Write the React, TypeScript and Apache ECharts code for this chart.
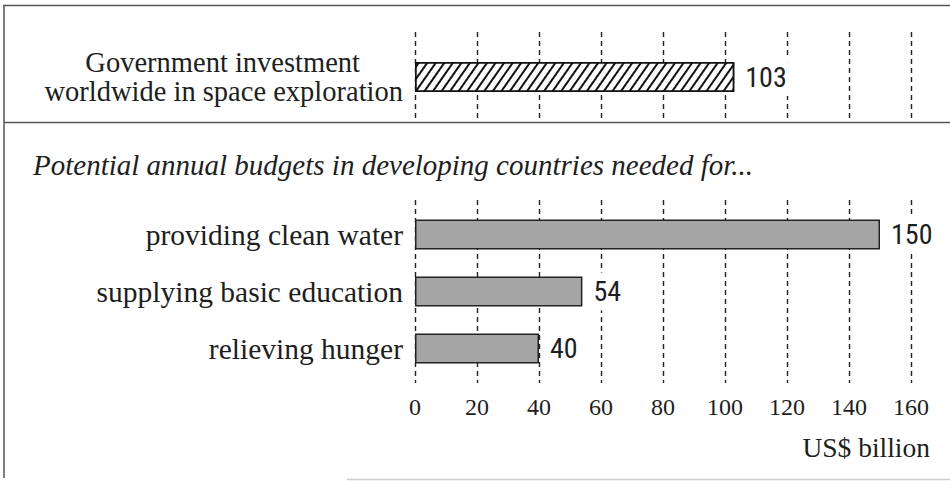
import React, { useEffect, useRef } from "react";
import * as echarts from "echarts";

const topCategories = ["Government investment\nworldwide in space exploration"];
const topValues = [103];
const bottomCategories = ["providing clean water", "supplying basic education", "relieving hunger"];
const bottomValues = [150, 54, 40];
const axisMin = 0;
const axisMax = 160;
const axisInterval = 20;
const headingText = "Potential annual budgets in developing countries needed for...";
const unitText = "US$ billion";

const SERIF = "'Liberation Serif', 'Times New Roman', serif";
const SANS = "'Liberation Sans Narrow', 'Roboto Condensed', Roboto, 'Liberation Sans', sans-serif";
const INK = "#1e1e1e";

export default function App() {
  const ref = useRef<HTMLDivElement>(null);
  useEffect(() => {
    if (!ref.current) return;
    const chart = echarts.init(ref.current, undefined, { renderer: "svg" });
    const gridLeft = 415;
    const gridRight = 39;
    const dashed = { show: true, lineStyle: { type: [5, 4], color: "#222", width: 1.4 } };
    const valueLabel = {
      show: true,
      position: "right",
      distance: 9,
      fontFamily: SANS,
      fontSize: 28,
      color: INK,
      backgroundColor: "#ffffff",
      padding: [6, 2, 4, 2],
    };
    const option: any = {
      animation: false,
      backgroundColor: "#fff",
      grid: [
        { left: gridLeft, right: gridRight, top: 32, height: 90 },
        { left: gridLeft, right: gridRight, top: 206, height: 171 },
        { left: gridLeft, right: gridRight, top: 200, height: 183 },
      ],
      xAxis: [
        {
          gridIndex: 0, type: "value", min: axisMin, max: axisMax, interval: axisInterval,
          axisLine: { show: false }, axisTick: { show: false }, axisLabel: { show: false },
          splitLine: dashed,
        },
        {
          gridIndex: 1, type: "value", min: axisMin, max: axisMax, interval: axisInterval,
          show: false, splitLine: { show: false },
        },
        {
          gridIndex: 2, type: "value", min: axisMin, max: axisMax, interval: axisInterval,
          axisLine: { show: false }, axisTick: { show: false },
          axisLabel: { show: true, margin: 12, fontFamily: SERIF, fontSize: 24, color: INK },
          splitLine: dashed,
        },
      ],
      yAxis: [
        {
          gridIndex: 0, type: "category", data: topCategories, inverse: true,
          axisLine: { show: false }, axisTick: { show: false },
          axisLabel: {
            show: true, margin: 12, align: "right",
            formatter: (v: string) => {
              const [a, b] = v.split("\n");
              return `{a|${a}}\n{b|${b}}`;
            },
            rich: {
              a: { fontFamily: SERIF, fontSize: 28.5, color: INK, lineHeight: 29, padding: [0, 43, 0, 0] },
              b: { fontFamily: SERIF, fontSize: 28.5, color: INK, lineHeight: 29 },
            },
          },
          splitLine: { show: false },
        },
        {
          gridIndex: 1, type: "category", data: bottomCategories, inverse: true,
          axisLine: { show: false }, axisTick: { show: false },
          axisLabel: { show: true, margin: 12, fontFamily: SERIF, fontSize: 29.5, color: INK },
          splitLine: { show: false },
        },
        { gridIndex: 2, type: "value", min: 0, max: 1, show: false, splitLine: { show: false } },
      ],
      series: [
        {
          type: "bar", xAxisIndex: 0, yAxisIndex: 0, data: topValues, barWidth: 30,
          itemStyle: {
            color: "#ffffff", borderColor: "#111", borderWidth: 1.5,
            decal: {
              symbol: "rect", symbolSize: 1, color: "#111", backgroundColor: "#ffffff",
              dashArrayX: [1, 0], dashArrayY: [1.2, 5], rotation: (-55 * Math.PI) / 180,
            },
          },
          label: valueLabel,
        },
        {
          type: "bar", xAxisIndex: 1, yAxisIndex: 1, data: bottomValues, barWidth: 30,
          itemStyle: { color: "#a6a6a6", borderColor: "#222", borderWidth: 1.5 },
          label: valueLabel,
        },
        { type: "scatter", xAxisIndex: 2, yAxisIndex: 2, data: [] },
      ],
      graphic: [
        { type: "line", shape: { x1: 3, y1: 5.5, x2: 950, y2: 5.5 }, style: { stroke: "#555", lineWidth: 1.5 } },
        { type: "line", shape: { x1: 4, y1: 5, x2: 4, y2: 478 }, style: { stroke: "#555", lineWidth: 1.5 } },
        { type: "line", shape: { x1: 4, y1: 122.5, x2: 950, y2: 122.5 }, style: { stroke: "#555", lineWidth: 1.5 } },
        { type: "line", shape: { x1: 347, y1: 479.5, x2: 950, y2: 479.5 }, style: { stroke: "#ccc", lineWidth: 1.5 } },
        {
          type: "text", left: 33, top: 150,
          style: { text: headingText, fontFamily: SERIF, fontStyle: "italic", fontSize: 29, fill: INK },
        },
        {
          type: "text", right: 20, top: 433,
          style: { text: unitText, fontFamily: SERIF, fontSize: 27.5, fill: INK },
        },
      ],
    };
    chart.setOption(option);
    return () => chart.dispose();
  }, []);
  return <div ref={ref} style={{ width: 950, height: 481, position: "fixed", left: 0, top: 0 }} />;
}
